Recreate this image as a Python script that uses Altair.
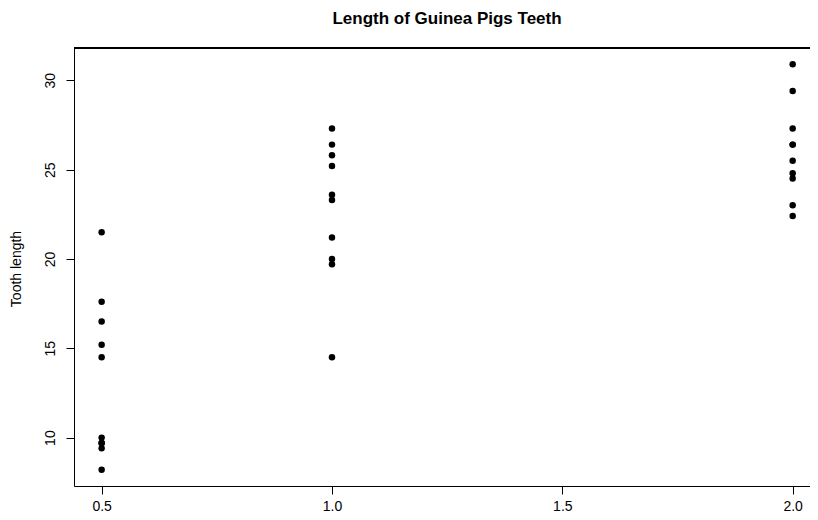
import altair as alt
import pandas as pd

# ToothGrowth-like data (tooth length by dose)
dose_05 = [15.2, 21.5, 17.6, 9.7, 14.5, 10.0, 8.2, 9.4, 16.5, 9.7]
dose_10 = [19.7, 23.3, 23.6, 26.4, 20.0, 25.2, 25.8, 21.2, 14.5, 27.3]
dose_20 = [25.5, 26.4, 22.4, 24.5, 24.8, 30.9, 26.4, 27.3, 29.4, 23.0]
doses = [0.5, 1.0, 2.0]
x_ticks = [0.5, 1.0, 1.5, 2.0]
y_ticks = [10, 15, 20, 25, 30]

rows = []
for d, vals in zip(doses, [dose_05, dose_10, dose_20]):
    for v in vals:
        rows.append({"dose": d, "len": v})
df = pd.DataFrame(rows)

FONT = "Liberation Sans"
W, H = 736, 438

points = alt.Chart(df).mark_circle(size=42, color="black", opacity=1).encode(
    x=alt.X("dose:Q",
            scale=alt.Scale(domain=[0.44, 2.0376], nice=False, zero=False),
            axis=alt.Axis(values=x_ticks, format=".1f", title=None, grid=False,
                          tickSize=8, labelPadding=5, labelFontSize=14,
                          labelFont=FONT, labelColor="black", domainColor="black",
                          tickColor="black", labelFlush=False)),
    y=alt.Y("len:Q",
            scale=alt.Scale(domain=[7.292, 31.808], nice=False, zero=False),
            axis=alt.Axis(values=y_ticks, title="Tooth length", grid=False,
                          tickSize=8, labelPadding=16, labelFontSize=14,
                          labelAngle=270, labelAlign="center", labelBaseline="middle",
                          labelFont=FONT, labelColor="black", domainColor="black",
                          tickColor="black", labelFlush=False,
                          titleFont=FONT, titleFontSize=14, titleFontWeight="normal",
                          titleColor="black", titleAngle=270, titleAlign="center",
                          titleBaseline="middle", titleX=-57.5, titleY=220.5)),
)

top_line = alt.Chart(df).mark_rule(color="black", strokeWidth=1).encode(
    x=alt.value(0), x2=alt.value(W), y=alt.value(0)
)

chart = alt.layer(points, top_line).properties(
    width=W, height=H,
    title=alt.TitleParams("Length of Guinea Pigs Teeth", font=FONT, fontSize=17,
                          fontWeight="bold", color="black", anchor="middle",
                          offset=20, dx=5),
    autosize=alt.AutoSizeParams(type="none"),
    padding={"left": 66, "top": 40, "right": 0, "bottom": 26},
).configure_view(stroke=None).configure(background="white")

chart.save("out.html", embed_options={"renderer": "svg", "actions": False})
